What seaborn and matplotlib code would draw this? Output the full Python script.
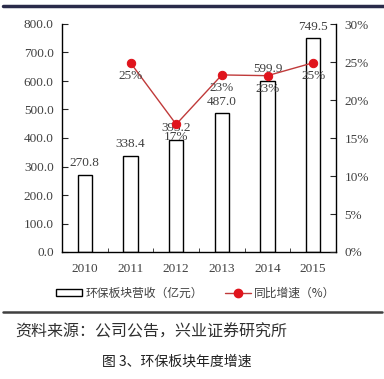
import matplotlib
matplotlib.use("Agg")
import matplotlib.pyplot as plt
import seaborn as sns
import numpy as np
import pandas as pd
from matplotlib.lines import Line2D
from matplotlib.patches import Patch

# data
years = ["2010", "2011", "2012", "2013", "2014", "2015"]
revenue = [270.8, 338.4, 393.2, 487.0, 599.9, 749.5]
growth = [np.nan, 24.9, 16.8, 23.3, 23.2, 24.9]
growth_labels = ["", "25%", "17%", "23%", "23%", "25%"]

sns.set_style("ticks")
plt.rcParams['font.family'] = ['Liberation Serif', 'Noto Sans CJK SC', 'DejaVu Sans']

df = pd.DataFrame({"year": years, "revenue": revenue, "growth": growth,
                   "pos": np.arange(len(years))})

fig = plt.figure(figsize=(3.84, 3.79), dpi=100)
ax = fig.add_axes([62 / 384, 1 - 252 / 379, 274 / 384, 228 / 379])

sns.barplot(data=df, x="year", y="revenue", ax=ax, color="white",
            edgecolor="black", linewidth=1, width=0.31, saturation=1)
ax.set_ylim(0, 800)
ax.set_xlim(-0.5, 5.5)
ax.set_yticks(np.arange(0, 801, 100))
ax.set_yticklabels([f"{v:.1f}" for v in np.arange(0, 801, 100)])
ax.set_xlabel("")
ax.set_ylabel("")
ax.set_xticks(np.arange(len(years)))
ax.set_xticks(np.arange(0.5, 5.5, 1), minor=True)
ax.tick_params(axis="x", which="major", length=0, pad=8)
ax.tick_params(axis="x", which="minor", direction="in", length=3)
ax.tick_params(axis="y", direction="in", length=4, pad=6)
ax.tick_params(labelsize=9.5, labelcolor="#404040")
for sp in ["top", "right"]:
    ax.spines[sp].set_visible(False)
for sp in ["left", "bottom"]:
    ax.spines[sp].set_color("black")
    ax.spines[sp].set_linewidth(1)

for i, v in enumerate(revenue):
    ax.annotate(f"{v:.1f}", (i, v), xytext=(0, 4), textcoords="offset points",
                ha="center", va="bottom", fontsize=9.5, color="#404040")

ax2 = ax.twinx()
sns.lineplot(data=df, x="pos", y="growth", ax=ax2, color="#c03a3a",
             linewidth=1, marker="o", markersize=6,
             markerfacecolor="#e0141c", markeredgecolor="#e0141c")
ax2.set_ylim(0, 30)
ax2.set_xlim(-0.5, 5.5)
ax2.set_yticks(np.arange(0, 31, 5))
ax2.set_yticklabels([f"{v}%" for v in np.arange(0, 31, 5)])
ax2.set_ylabel("")
ax2.set_xlabel("")
ax2.tick_params(axis="y", direction="in", length=4, pad=6, labelsize=9.5,
                labelcolor="#404040")
for sp in ["top", "left", "bottom"]:
    ax2.spines[sp].set_visible(False)
ax2.spines["right"].set_color("black")
ax2.spines["right"].set_linewidth(1)

for i, (g, lab) in enumerate(zip(growth, growth_labels)):
    if lab:
        ax2.annotate(lab, (i, g), xytext=(0, -5), textcoords="offset points",
                     ha="center", va="top", fontsize=9.5, color="#404040")

handles = [Patch(facecolor="white", edgecolor="black", linewidth=1),
           Line2D([0], [0], color="#c03a3a", linewidth=1, marker="o",
                  markersize=6, markerfacecolor="#e0141c",
                  markeredgecolor="#e0141c")]
fig.legend(handles, ["环保板块营收（亿元）", "同比增速（%）"], ncol=2,
           loc="center", bbox_to_anchor=(196 / 384, 1 - 293 / 379), frameon=False,
           prop={"family": ["Noto Sans CJK SC"], "size": 8.5},
           handlelength=2.2, handleheight=0.6, columnspacing=1.8,
           handletextpad=0.3, labelcolor="#404040")

# top and bottom rules
fig.add_artist(Line2D([3 / 384, 1], [1 - 6 / 379] * 2, color="#2a2b4a",
                      linewidth=2.5))
fig.add_artist(Line2D([3 / 384, 382 / 384], [1 - 312 / 379] * 2,
                      color="#404040", linewidth=1.8))

fig.text(15 / 384, 1 - 332 / 379, "资料来源：公司公告，兴业证券研究所",
         family=["Noto Sans CJK SC"], fontsize=11.5, color="#303030",
         ha="left", va="center")
fig.text(177 / 384, 1 - 362 / 379, "图 3、环保板块年度增速",
         family=["Noto Sans CJK SC"], fontsize=10, color="#202020",
         ha="center", va="center")

fig.savefig("out.png", dpi=100)
